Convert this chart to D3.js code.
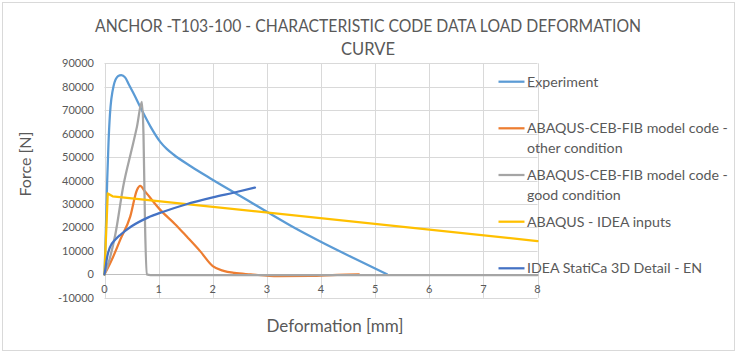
<!DOCTYPE html>
<html>
<head>
<meta charset="utf-8">
<script src="https://cdn.jsdelivr.net/npm/d3@7"></script>
<style>
  body { margin: 0; background: #fff; }
  text { font-family: Lato, "Open Sans", sans-serif; fill: #595959; }
</style>
</head>
<body>
<div id="chart"></div>
<script>

// data (deformation in mm, force in N)
const experiment = [
  [0, 0], [0.02, 15000], [0.05, 40000], [0.074, 56000], [0.1, 68000], [0.17, 80500],
  [0.25, 84500], [0.31, 85000], [0.38, 84000], [0.45, 81000], [0.54, 77000],
  [0.69, 70000], [0.85, 63000], [1.03, 56500], [1.15, 53500], [1.28, 51000], [1.6, 46000],
  [1.95, 41000], [2.5, 33500], [3.0, 26700], [3.5, 20000], [4.05, 13300],
  [4.6, 7000], [5.22, 0]
];
const otherCondition = [
  [0, 0], [0.15, 7000], [0.29, 14700], [0.475, 24600], [0.6, 36000], [0.66, 37700],
  [0.75, 35300], [1.03, 27500], [1.3, 21500], [1.52, 16100], [1.77, 9800],
  [2.0, 3500], [2.2, 1500], [2.4, 600], [2.7, 0], [3.2, -800], [3.8, -700],
  [4.3, -200], [4.7, 0]
];
const goodCondition = [
  [0, 0], [0.1, 7000], [0.2, 17000], [0.35, 38000], [0.5, 53000], [0.6, 63000],
  [0.69, 73500], [0.72, 60000], [0.75, 20000], [0.78, 0], [0.85, -300], [8, -300]
];
const ideaInputs = [
  [0, 0], [0.06, 34500], [0.15, 33300], [8, 14200]
];
const ideaStatica = [
  [0, 0], [0.02, 3000], [0.05, 7500], [0.1, 11500], [0.2, 14800], [0.3, 17000],
  [0.5, 20500], [0.8, 24200], [1.1, 26800], [1.5, 29800], [2.0, 32800],
  [2.4, 34900], [2.78, 37000]
];

const seriesNames = [
  "Experiment",
  "ABAQUS-CEB-FIB model code - other condition",
  "ABAQUS-CEB-FIB model code - good condition",
  "ABAQUS - IDEA inputs",
  "IDEA StatiCa 3D Detail - EN"
];
const seriesColors = ["#5B9BD5", "#ED7D31", "#A5A5A5", "#FFC000", "#4472C4"];
const seriesData = [experiment, otherCondition, goodCondition, ideaInputs, ideaStatica];

const xTicks = [0, 1, 2, 3, 4, 5, 6, 7, 8];
const yTicks = [-10000, 0, 10000, 20000, 30000, 40000, 50000, 60000, 70000, 80000, 90000];

const width = 737, height = 353;

const svg = d3.select("#chart")
  .append("svg")
  .attr("width", width)
  .attr("height", height);

// chart border
svg.append("rect")
  .attr("x", 2.5).attr("y", 2.5)
  .attr("width", width - 5).attr("height", height - 5)
  .attr("fill", "none")
  .attr("stroke", "#D9D9D9");

const x = d3.scaleLinear().domain([0, 8]).range([104.5, 537.5]);
const y = d3.scaleLinear().domain([-10000, 90000]).range([297.8, 63.3]);

// gridlines
svg.append("g")
  .selectAll("line")
  .data(yTicks)
  .enter()
  .append("line")
    .attr("x1", x(0)).attr("x2", x(8))
    .attr("y1", d => Math.round(y(d)) + 0.5).attr("y2", d => Math.round(y(d)) + 0.5)
    .attr("stroke", d => d === 0 ? "#BFBFBF" : "#D9D9D9");

svg.append("g")
  .selectAll("line")
  .data(xTicks)
  .enter()
  .append("line")
    .attr("x1", d => Math.round(x(d)) + 0.5).attr("x2", d => Math.round(x(d)) + 0.5)
    .attr("y1", y(90000)).attr("y2", y(-10000))
    .attr("stroke", "#D9D9D9");

// tick labels
svg.append("g")
  .selectAll("text")
  .data(yTicks)
  .enter()
  .append("text")
    .attr("x", 94)
    .attr("y", d => y(d) + 4)
    .attr("text-anchor", "end")
    .style("font-size", "11px")
    .text(d => d);

svg.append("g")
  .selectAll("text")
  .data(xTicks)
  .enter()
  .append("text")
    .attr("x", d => x(d))
    .attr("y", y(0) + 19)
    .attr("text-anchor", "middle")
    .style("font-size", "11px")
    .text(d => d);

// the curves (straight segments for the IDEA inputs line, smooth for the rest)
const smooth = d3.line()
  .x(d => x(d[0]))
  .y(d => y(d[1]))
  .curve(d3.curveMonotoneX);
const straight = d3.line()
  .x(d => x(d[0]))
  .y(d => y(d[1]));

svg.append("g")
  .selectAll("path")
  .data(seriesData)
  .enter()
  .append("path")
    .attr("d", (d, i) => i === 3 ? straight(d) : smooth(d))
    .attr("fill", "none")
    .attr("stroke", (d, i) => seriesColors[i])
    .attr("stroke-width", 2.25)
    .attr("stroke-linejoin", "round")
    .attr("stroke-linecap", "round");

// title, squeezed a little to match the narrow original face
const title = svg.append("text")
  .attr("text-anchor", "middle")
  .style("font-size", "16.5px");
title.append("tspan").attr("x", 368).attr("y", 31.5)
  .attr("textLength", 546)
  .attr("lengthAdjust", "spacingAndGlyphs")
  .text("ANCHOR -T103-100 - CHARACTERISTIC CODE DATA LOAD DEFORMATION");
title.append("tspan").attr("x", 368).attr("y", 55)
  .attr("textLength", 54)
  .attr("lengthAdjust", "spacingAndGlyphs")
  .text("CURVE");

// axis titles
svg.append("text")
  .attr("x", 335).attr("y", 332)
  .attr("text-anchor", "middle")
  .style("font-size", "17px")
  .text("Deformation [mm]");

svg.append("text")
  .attr("transform", "translate(31,164) rotate(-90)")
  .attr("text-anchor", "middle")
  .style("font-size", "16px")
  .text("Force [N]");

// legend
const legendRows = [
  {y: 81.7, lines: ["Experiment"]},
  {y: 128.3, lines: ["ABAQUS-CEB-FIB model code -", "other condition"]},
  {y: 175, lines: ["ABAQUS-CEB-FIB model code -", "good condition"]},
  {y: 221.7, lines: ["ABAQUS - IDEA inputs"]},
  {y: 268.3, lines: ["IDEA StatiCa 3D Detail - EN"]}
];

const legend = svg.append("g")
  .selectAll("g")
  .data(legendRows)
  .enter()
  .append("g");

legend.append("line")
  .attr("x1", 498.5).attr("x2", 524.5)
  .attr("y1", d => d.y).attr("y2", d => d.y)
  .attr("stroke", (d, i) => seriesColors[i])
  .attr("stroke-width", 2.25);

legend.append("text")
  .style("font-size", "14.2px")
  .selectAll("tspan")
  .data(d => d.lines.map((t, k) => ({t: t, y: d.y + 5 + k * 20})))
  .enter()
  .append("tspan")
    .attr("x", 527)
    .attr("y", d => d.y)
    .text(d => d.t);

</script>
</body>
</html>
